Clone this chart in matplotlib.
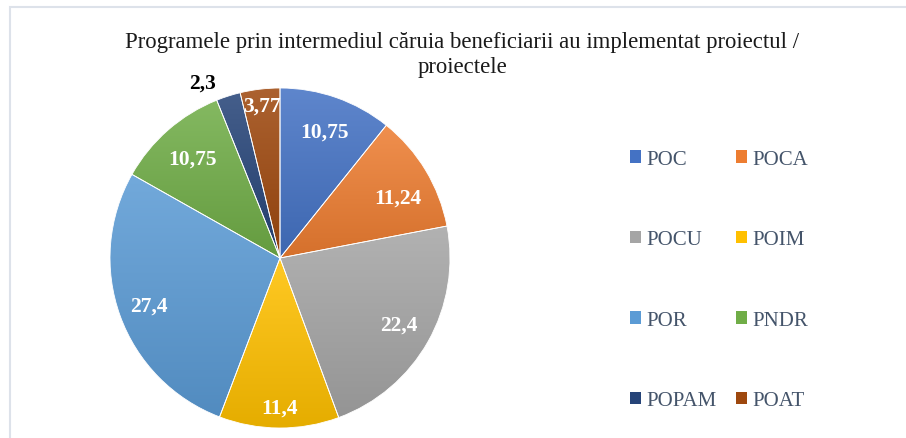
"""
pie chart: programmes used by beneficiaries to implement projects
"""

import numpy as np
import matplotlib
matplotlib.use("Agg")
import matplotlib.pyplot as plt
from matplotlib.colors import to_rgb
from matplotlib.patches import Patch, Rectangle

programe = ["POC", "POCA", "POCU", "POIM", "POR", "PNDR", "POPAM", "POAT"]
valori = [10.75, 11.24, 22.4, 11.4, 27.4, 10.75, 2.3, 3.77]
culori = ["#4472C4", "#ED7D31", "#A5A5A5", "#FFC000",
          "#5B9BD5", "#70AD47", "#264478", "#9E480E"]
titlu = ["Programele prin intermediul căruia beneficiarii au implementat proiectul /",
         "proiectele"]

# label radius and angle nudge per slice (excel "best fit" look)
dist = [0.79, 0.78, 0.80, 0.88, 0.82, 0.78, 1.13, 0.90]
nudge = [0, -4, 0, 0, 0, 0, 6, 0]

FONT = "Liberation Serif"
W, H = 906, 439


# lighter on top, a bit darker at the bottom
def gradient(col, n=64):
    c = np.array(to_rgb(col))
    top = c + (1 - c) * 0.14
    bot = c * 0.90
    t = np.linspace(0, 1, n)[:, None]
    g = top * (1 - t) + bot * t
    return g[:, None, :]


fig = plt.figure(figsize=(W / 100, H / 100), dpi=100)

# chart frame
fig.patches.append(Rectangle((10 / W, -0.1), 1.2, 1 - 8 / H + 0.1,
                             transform=fig.transFigure, fill=False,
                             edgecolor="#DDE2EA", linewidth=1.5))

cx, cy, r = 280, H - 259, 170
ax = fig.add_axes([(cx - r) / W, (cy - r) / H, 2 * r / W, 2 * r / H])

wedges, _ = ax.pie(valori, colors=culori, startangle=90, counterclock=False,
                   radius=1, wedgeprops=dict(edgecolor="white", linewidth=0.6))

for w, col in zip(wedges, culori):
    verts = w.get_path().vertices
    x0, y0 = verts.min(axis=0)
    x1, y1 = verts.max(axis=0)
    im = ax.imshow(gradient(col), extent=(x0, x1, y0, y1), origin="upper",
                   aspect="auto", interpolation="bilinear", zorder=1)
    im.set_clip_path(w)
    w.set_facecolor("none")
    w.set_zorder(2)

for w, v, d, n in zip(wedges, valori, dist, nudge):
    a = np.deg2rad((w.theta1 + w.theta2) / 2 + n)
    txt = f"{v:g}".replace(".", ",")
    ax.text(d * np.cos(a), d * np.sin(a), txt, ha="center", va="center",
            fontsize=15.5, fontweight="bold", family=FONT,
            color="black" if d > 1 else "white", zorder=3)

ax.set_xlim(-1, 1)
ax.set_ylim(-1, 1)
ax.set_aspect("equal")
ax.axis("off")

# title, one text per line
for i, linie in enumerate(titlu):
    fig.text(462 / W, 1 - (48 + 25 * i) / H, linie, ha="center", va="baseline",
             fontsize=16.4, family=FONT, color="#1a1a1a")

# row-major order for 2 columns
order = [0, 2, 4, 6, 1, 3, 5, 7]
handles = [Patch(facecolor=culori[i], edgecolor="none", label=programe[i]) for i in order]
fig.legend(handles=handles, ncol=2, loc="upper left",
           bbox_to_anchor=(630 / W, 1 - 151 / H), frameon=False,
           prop=dict(family=FONT, size=15), labelcolor="#44546A",
           handlelength=0.55, handleheight=0.55, handletextpad=0.25,
           labelspacing=2.95, columnspacing=0.9, borderaxespad=0, borderpad=0)

fig.savefig("out.png", dpi=100)
